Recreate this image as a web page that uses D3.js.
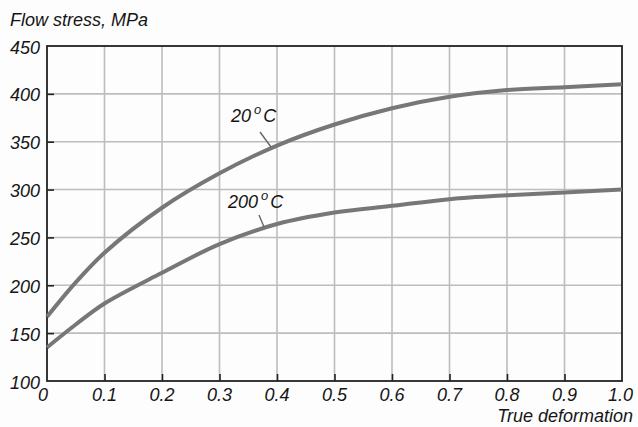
<!DOCTYPE html>
<html>
<head>
<meta charset="utf-8">
<script src="https://cdn.jsdelivr.net/npm/d3@7"></script>
<style>
  body { margin: 0; background: #fdfdfd; }
  text { font-family: "Liberation Sans", Arial, sans-serif; font-style: italic; fill: #161616; }
</style>
</head>
<body>
<script>
var w = 638;
var h = 427;
var margin = { top: 46, right: 16, bottom: 46, left: 47 };

// deformation points and flow stress readings
var strain = [0, 0.05, 0.1, 0.2, 0.3, 0.4, 0.5, 0.6, 0.7, 0.8, 0.9, 1.0];
var stress20 = [167, 203, 234, 281, 317, 346, 368, 385, 397, 404, 407, 410];
var stress200 = [135, 159, 181, 213, 243, 264, 276, 283, 290, 294, 297, 300];
var xTicks = [0, 0.1, 0.2, 0.3, 0.4, 0.5, 0.6, 0.7, 0.8, 0.9, 1.0];
var yTicks = [100, 150, 200, 250, 300, 350, 400, 450];

var x = d3.scaleLinear().domain([0, 1]).range([margin.left, w - margin.right]);
var y = d3.scaleLinear().domain([100, 450]).range([h - margin.bottom, margin.top]);

var svg = d3.select('body')
  .append('svg')
  .attr('width', w)
  .attr('height', h);

// grid
svg.append('g').selectAll('line')
  .data(xTicks.slice(1, -1))
  .enter()
  .append('line')
  .attr('x1', function(d) { return x(d); })
  .attr('x2', function(d) { return x(d); })
  .attr('y1', y(100))
  .attr('y2', y(450))
  .attr('stroke', '#bdbdbd')
  .attr('stroke-width', 1.6);

svg.append('g').selectAll('line')
  .data(yTicks.slice(1, -1))
  .enter()
  .append('line')
  .attr('x1', x(0))
  .attr('x2', x(1))
  .attr('y1', function(d) { return y(d); })
  .attr('y2', function(d) { return y(d); })
  .attr('stroke', '#bdbdbd')
  .attr('stroke-width', 1.6);

// axes with inner ticks
svg.append('g')
  .attr('transform', 'translate(0,' + y(100) + ')')
  .call(d3.axisBottom(x).tickValues(xTicks.slice(1, -1)).tickSizeInner(-7).tickSizeOuter(0).tickFormat(''));
svg.append('g')
  .attr('transform', 'translate(' + x(0) + ',0)')
  .call(d3.axisLeft(y).tickValues(yTicks.slice(1, -1)).tickSizeInner(-7).tickSizeOuter(0).tickFormat(''));
svg.selectAll('.domain').remove();
svg.selectAll('.tick line').attr('stroke', '#222').attr('stroke-width', 1.6);

// frame
svg.append('rect')
  .attr('x', x(0))
  .attr('y', y(450))
  .attr('width', x(1) - x(0))
  .attr('height', y(100) - y(450))
  .attr('fill', 'none')
  .attr('stroke', '#222')
  .attr('stroke-width', 1.8);

// tick labels
svg.append('g').selectAll('text')
  .data(xTicks)
  .enter()
  .append('text')
  .text(function(d) { return d === 0 ? '0' : d.toFixed(1); })
  .attr('x', function(d) { return d === 0 ? x(d) - 4 : x(d); })
  .attr('y', 401)
  .attr('text-anchor', function(d) { return d === 1 ? 'end' : 'middle'; })
  .attr('dx', function(d) { return d === 1 ? 11 : 0; })
  .attr('font-size', '18px');

svg.append('g').selectAll('text')
  .data(yTicks)
  .enter()
  .append('text')
  .text(function(d) { return d; })
  .attr('x', 40)
  .attr('y', function(d) { return y(d) + 7.5; })
  .attr('text-anchor', 'end')
  .attr('font-size', '18px');

// axis titles
svg.append('text')
  .text('Flow stress, MPa')
  .attr('x', 10)
  .attr('y', 26)
  .attr('font-size', '18px');
svg.append('text')
  .text('True deformation')
  .attr('x', 633)
  .attr('y', 422)
  .attr('text-anchor', 'end')
  .attr('font-size', '18px');

// curves
var line = d3.line()
  .x(function(d) { return x(d[0]); })
  .y(function(d) { return y(d[1]); })
  .curve(d3.curveCatmullRom);

[stress20, stress200].forEach(function(s) {
  svg.append('path')
    .datum(strain.map(function(v, i) { return [v, s[i]]; }))
    .attr('d', line)
    .attr('fill', 'none')
    .attr('stroke', '#777')
    .attr('stroke-width', 4);
});

// curve labels with leader lines
var labels = [
  { t: '20', lx: 231, ly: 122, x1: 260, y1: 132, x2: 271, y2: 147 },
  { t: '200', lx: 228, ly: 208, x1: 259, y1: 215, x2: 264, y2: 227 }
];
labels.forEach(function(l) {
  var tx = svg.append('text')
    .attr('x', l.lx)
    .attr('y', l.ly)
    .attr('font-size', '18px');
  tx.append('tspan').text(l.t);
  tx.append('tspan').text('o').attr('dy', -8).attr('dx', 3).attr('font-size', '13px');
  tx.append('tspan').text('C').attr('dy', 8).attr('dx', 2);
  svg.append('line')
    .attr('x1', l.x1).attr('y1', l.y1)
    .attr('x2', l.x2).attr('y2', l.y2)
    .attr('stroke', '#666')
    .attr('stroke-width', 1.4);
});
</script>
</body>
</html>
